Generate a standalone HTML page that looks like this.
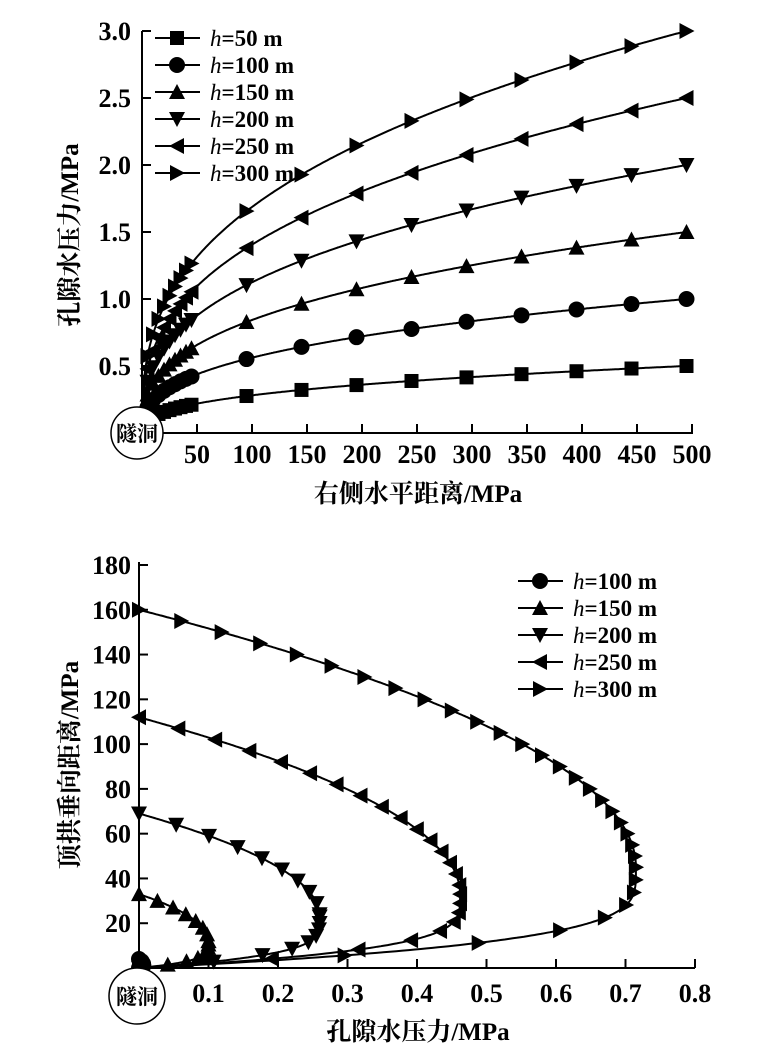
<!DOCTYPE html>
<html><head><meta charset="utf-8"><style>
body{margin:0;background:#fff}
text{font-family:"Liberation Serif","Noto Serif CJK SC",serif;fill:#000}
</style></head><body>
<svg id="s" width="760" height="1055" xmlns="http://www.w3.org/2000/svg">
<g id="g"></g>
</svg>
<script>
const g=document.getElementById('g');let h='';
function L(x1,y1,x2,y2,w){h+=`<line x1="${x1}" y1="${y1}" x2="${x2}" y2="${y2}" stroke="#000" stroke-width="${w||2}"/>`;}
function T(x,y,t,a,sz,ex){h+=`<text x="${x}" y="${y}" font-size="${sz||26}" text-anchor="${a||'middle'}" ${ex||''}>${t}</text>`;}
function M(type,x,y,s){s=s||7;
 if(type==0)h+=`<rect x="${x-s}" y="${y-s}" width="${2*s}" height="${2*s}"/>`;
 else if(type==1)h+=`<circle cx="${x}" cy="${y}" r="${s+1}"/>`;
 else{let p;
  if(type==2)p=[[x,y-s-1],[x-s-1,y+s],[x+s+1,y+s]];
  if(type==3)p=[[x,y+s+1],[x-s-1,y-s],[x+s+1,y-s]];
  if(type==4)p=[[x-s-1,y],[x+s,y-s-1],[x+s,y+s+1]];
  if(type==5)p=[[x+s+1,y],[x-s,y-s-1],[x-s,y+s+1]];
  h+=`<polygon points="${p.map(q=>q.join(',')).join(' ')}"/>`;}}
function P(pts){h+=`<polyline fill="none" stroke="#000" stroke-width="2" points="${pts.map(q=>q[0].toFixed(1)+','+q[1].toFixed(1)).join(' ')}"/>`;}
const B='font-weight="bold"';
// ---------- TOP ----------
const X0=142,XS=550/500,Y0=433,YS=402/3;
L(X0,31,X0,Y0);L(X0,Y0,693,Y0);
for(let i=1;i<=10;i++){let x=X0+i*50*XS;L(x,Y0,x,Y0-9);T(x,463,50*i,'middle',26,B);}
for(let i=1;i<=6;i++){let y=Y0-i*0.5*YS;L(X0,y,X0+9,y);T(131,y+9,(i*0.5).toFixed(1),'end',26,B);}
T(418,502,'右侧水平距离/MPa','middle',25,B);
T(0,0,'孔隙水压力/MPa','middle',25,B+' transform="translate(78,235) rotate(-90)"');
for(let k=1;k<=6;k++){let hh=50*k;let pts=[[X0,Y0]];
 for(let x=1;x<=495;x+=1){let v=hh/100*Math.pow(x/495,0.36);pts.push([X0+x*XS,Y0-v*YS]);}
 P(pts);
 let xs=[5,10,15,20,25,30,35,40,45];for(let x=95;x<=495;x+=50)xs.push(x);
 xs.forEach(x=>{let v=hh/100*Math.pow(x/495,0.36);M(k-1,X0+x*XS,Y0-v*YS);});
 let ly=38+27*(k-1);L(155,ly,200,ly);M(k-1,177,ly);
 T(210,ly+8,`<tspan font-style="italic" font-weight="normal">h</tspan>=${hh} m`,'start',23,B);
}
h+=`<circle cx="137" cy="433" r="26" fill="#fff" stroke="#000" stroke-width="1.5"/>`;
T(137,441,'隧洞','middle',21,B);
// ---------- BOTTOM ----------
const BX0=139,BY0=968,BYS=(968-565)/180;
const bx=p=>BX0+p*(556/0.8), by=y=>BY0-y*BYS;
L(BX0,562,BX0,BY0);L(BX0,BY0,695,BY0);
for(let i=1;i<=8;i++){let x=bx(i/10);L(x,BY0,x,BY0-9);T(x,1002,(i/10).toFixed(1),'middle',26,B);}
for(let i=1;i<=9;i++){let y=by(20*i);L(BX0,y,BX0+9,y);T(131,y+9,20*i,'end',26,B);}
T(418,1040,'孔隙水压力/MPa','middle',25,B);
T(0,0,'顶拱垂向距离/MPa','middle',25,B+' transform="translate(78,765) rotate(-90)"');
const S=[[100,4,1.5,0.006,1],[150,33,12,0.1,2],[200,69,23,0.26,3],[250,112,33,0.462,4],[300,160,45,0.715,5]];
S.forEach((s,i)=>{let [hh,Y,yp,pm,t]=s;
 const f=y=>y<=yp?pm*(1-Math.pow((yp-y)/yp,4)):pm*(1-Math.pow((y-yp)/(Y-yp),2));
 let pts=[];for(let y=0;y<=Y;y+=0.25)pts.push([bx(f(y)),by(y)]);P(pts);
 let st=Y>60?5:(Y>20?3:1);
 for(let y=Y;y>=yp;y-=st)M(t,bx(f(y)),by(y));
 for(let y=yp;y>0;y-=yp/8)M(t,bx(f(y)),by(y));
 M(t,bx(0),by(0));
 let ly=581+27*i;L(518,ly,563,ly);M(t,540,ly);
 T(573,ly+8,`<tspan font-style="italic" font-weight="normal">h</tspan>=${hh} m`,'start',23,B);
});
h+=`<circle cx="137" cy="996" r="28" fill="#fff" stroke="#000" stroke-width="1.5"/>`;
T(137,1004,'隧洞','middle',21,B);
g.innerHTML=h;
</script>
</body></html>
